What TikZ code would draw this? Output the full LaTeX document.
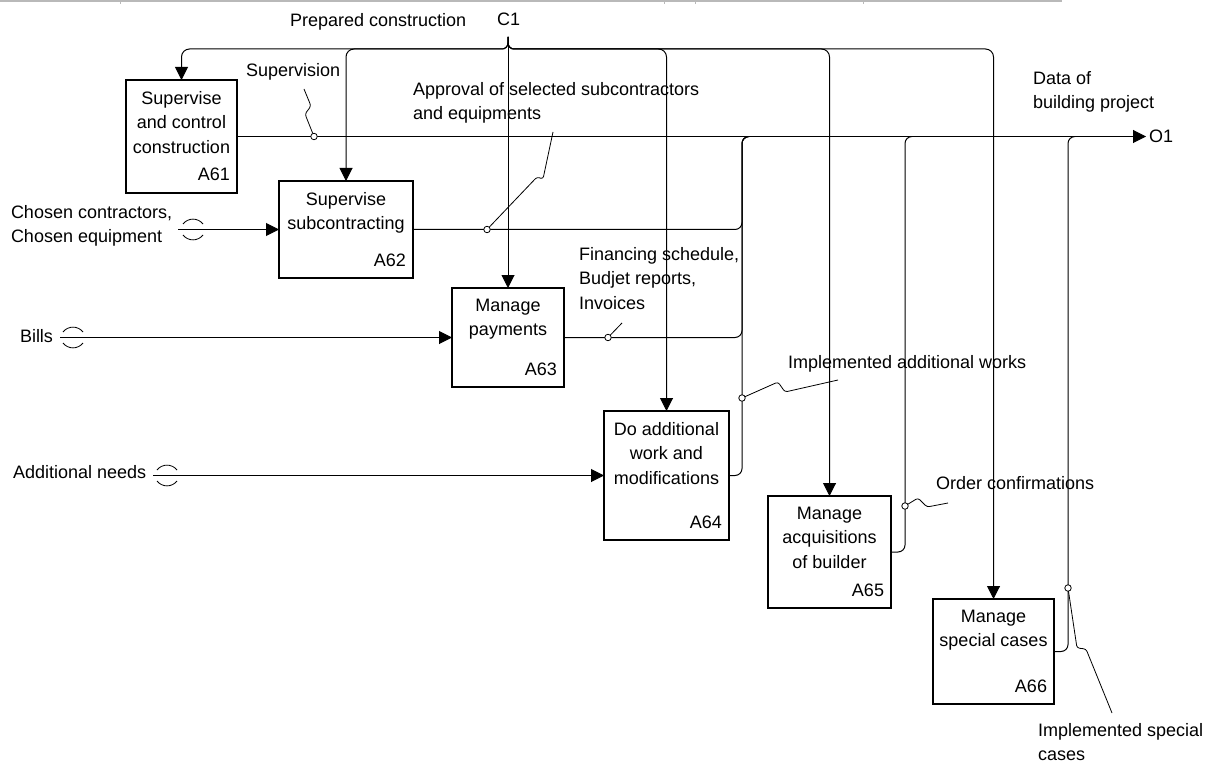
\documentclass[tikz,border=0pt]{standalone}
\usepackage{fontspec}
\setmainfont{Liberation Sans}
\usetikzlibrary{arrows.meta}
\begin{document}
\begin{tikzpicture}[x=1pt,y=-1pt,
  every node/.style={inner sep=0pt, outer sep=0pt, font=\fontsize{18}{24.5}\selectfont},
  activity/.style={draw, line width=1.6pt, fill=white},
  flow/.style={line width=1pt},
  arr/.style={flow, -{Triangle[length=13pt,width=13pt]}},
  lbl/.style={anchor=north west, align=left},
  boxtext/.style={anchor=north, align=center},
  boxnum/.style={anchor=base east},
  knot/.style={draw, circle, minimum size=6.5pt, line width=0.8pt, fill=white},
  squig/.style={line width=0.8pt, rounded corners=2.5pt},
  tunnel/.pic={
    \draw[line width=0.8pt] (-10,-5.5) .. controls (-5,-12) and (5,-12) .. (10,-5.5);
    \draw[line width=0.8pt] (-10,5.5) .. controls (-5,12) and (5,12) .. (10,5.5);
  }
]
\useasboundingbox (0,0) rectangle (1214,767);

% form frame at the top
\draw[gray!55, line width=2pt] (0,1) -- (1062,1);
\foreach \t in {120,664,695,863} \draw[gray!55, line width=1pt] (\t,0) -- (\t,4);

% activities
\node[activity, minimum width=111pt, minimum height=113pt] (A61) at (181.5,136.5) {};
\node[activity, minimum width=134pt, minimum height=97pt]  (A62) at (346,229.5) {};
\node[activity, minimum width=112pt, minimum height=99pt]  (A63) at (508,337.5) {};
\node[activity, minimum width=125pt, minimum height=129pt] (A64) at (666.5,475.5) {};
\node[activity, minimum width=123pt, minimum height=112pt] (A65) at (829.5,552) {};
\node[activity, minimum width=121pt, minimum height=105pt] (A66) at (993.5,651.5) {};

\node[boxtext] (A61t) at ([yshift=-11pt]A61.north) {Supervise\\and control\\construction};
\node[boxtext] (A62t) at ([yshift=-11pt]A62.north) {Supervise\\subcontracting};
\node[boxtext] (A63t) at ([yshift=-11pt]A63.north) {Manage\\payments};
\node[boxtext] (A64t) at ([yshift=-11pt]A64.north) {Do additional\\work and\\modifications};
\node[boxtext] (A65t) at ([yshift=-11pt]A65.north) {Manage\\acquisitions\\of builder};
\node[boxtext] (A66t) at ([yshift=-11pt]A66.north) {Manage\\special cases};

\node[boxnum] (A61n) at ([xshift=-7pt,yshift=12pt]A61.south east) {A61};
\node[boxnum] (A62n) at ([xshift=-7pt,yshift=12pt]A62.south east) {A62};
\node[boxnum] (A63n) at ([xshift=-7pt,yshift=12pt]A63.south east) {A63};
\node[boxnum] (A64n) at ([xshift=-7pt,yshift=12pt]A64.south east) {A64};
\node[boxnum] (A65n) at ([xshift=-7pt,yshift=12pt]A65.south east) {A65};
\node[boxnum] (A66n) at ([xshift=-7pt,yshift=12pt]A66.south east) {A66};

% control C1
\node[lbl] (lprep) at (290,13) {Prepared construction};
\node[lbl] (lc1) at (497,13) {C1};
\coordinate (c1) at (508,37);
\draw[arr] (c1) -- (A63.north);
\draw[arr] (c1) -- (508,43) to[out=-90,in=0] (502,49) -- (189.5,49) to[out=180,in=90] (181.5,57) -- (A61.north);
\draw[arr] (c1) -- (508,43) to[out=-90,in=0] (502,49) -- (354,49) to[out=180,in=90] (346,57) -- (A62.north);
\draw[arr] (c1) -- (508,43) to[out=-90,in=180] (514,49) -- (658.5,49) to[out=0,in=90] (666.5,57) -- (A64.north);
\draw[arr] (c1) -- (508,43) to[out=-90,in=180] (514,49) -- (821.5,49) to[out=0,in=90] (829.5,57) -- (A65.north);
\draw[arr] (c1) -- (508,43) to[out=-90,in=180] (514,49) -- (985.5,49) to[out=0,in=90] (993.5,57) -- (A66.north);

% inputs
\node[lbl] (lchosen) at (11,205) {Chosen contractors,\\Chosen equipment};
\node[lbl] (lbills) at (20,329) {Bills};
\node[lbl] (ladd) at (13,465) {Additional needs};
\coordinate (in2) at (178,229.5);
\coordinate (in3) at (60,337.5);
\coordinate (in4) at (153,475.5);
\draw[arr] (in2) -- (A62.west);
\draw[arr] (in3) -- (A63.west);
\draw[arr] (in4) -- (A64.west);
\pic at (193,229.5) {tunnel};
\pic at (73,337.5) {tunnel};
\pic at (167,475.5) {tunnel};

% output O1
\coordinate (o1) at (1146,136.5);
\node[anchor=west] (O1) at (1149,136.5) {O1};
\node[lbl] (ldata) at (1033,71) {Data of\\building project};
\draw[arr] (A61.east) -- (o1);
\coordinate (j1) at (749,136.5);
\coordinate (j2) at (912,136.5);
\coordinate (j3) at (1075,136.5);
\draw[flow] (A62.east) -- (735,229.5) to[out=0,in=-90] (742,222.5) -- (742,143.5) to[out=90,in=180] (j1);
\draw[flow] (A63.east) -- (735,337.5) to[out=0,in=-90] (742,330.5) -- (742,143.5) to[out=90,in=180] (j1);
\draw[flow] (A64.east) -- (735,475.5) to[out=0,in=-90] (742,468.5) -- (742,143.5) to[out=90,in=180] (j1);
\draw[flow] (A65.east) -- (898,552) to[out=0,in=-90] (905,545) -- (905,143.5) to[out=90,in=180] (j2);
\draw[flow] (A66.east) -- (1061,651.5) to[out=0,in=-90] (1068,644.5) -- (1068,143.5) to[out=90,in=180] (j3);

% arrow labels with their squiggles
\node[lbl] (lsup) at (246,63) {Supervision};
\node[lbl] (lappr) at (413,82) {Approval of selected subcontractors\\and equipments};
\node[lbl] (lfin) at (579,247) {Financing schedule,\\Budjet reports,\\Invoices};
\node[lbl] (limpl) at (788,355) {Implemented additional works};
\node[lbl] (lorder) at (936,476) {Order confirmations};
\node[lbl] (lspec) at (1038,723) {Implemented special\\cases};

\node[knot] (k1) at (314,136.5) {};
\node[knot] (k2) at (487,229.5) {};
\node[knot] (k3) at (608,337.5) {};
\node[knot] (k4) at (742,398) {};
\node[knot] (k5) at (905,506) {};
\node[knot] (k6) at (1068,588) {};

\coordinate (s1) at (304,89);
\coordinate (s2) at (553,132);
\coordinate (s3) at (622,323);
\coordinate (s4) at (838,380);
\coordinate (s5) at (948,503);
\coordinate (s6) at (1112,713);
\draw[squig] (s1) -- (311,106) -- (305,114) -- (k1);
\draw[squig] (s2) -- (543,179) -- (537,177) -- (k2);
\draw[squig] (s3) -- (k3);
\draw[squig] (k4) -- (778,382) -- (785,392) -- (s4);
\draw[squig] (k5) -- (918,498) -- (927,507) -- (s5);
\draw[squig] (k6) -- (1077,648) -- (1086,649) -- (s6);
\end{tikzpicture}
\end{document}
